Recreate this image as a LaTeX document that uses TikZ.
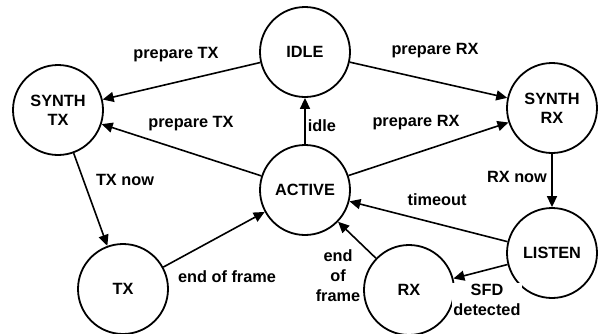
\documentclass[tikz,border=0pt]{standalone}
\usepackage{fontspec}
\setmainfont{Liberation Sans}
\usetikzlibrary{arrows.meta}
\begin{document}
\begin{tikzpicture}[x=1pt,y=-1pt,
  state/.style={circle,draw,line width=1.8pt,minimum size=90pt,inner sep=0pt,align=center,font=\fontsize{16.3}{19}\selectfont\bfseries},
  trans/.style={line width=1.6pt,-{Triangle[length=11pt,width=10pt]}},
  lbl/.style={fill=white,inner sep=1pt,align=center,font=\fontsize{16.3}{20}\selectfont\bfseries}]
\useasboundingbox (0,0) rectangle (598,333);
\node[state] (idle) at (305,52) {IDLE};
\node[state] (stx) at (58,110) {SYNTH\\TX};
\node[state] (srx) at (552,108) {SYNTH\\RX};
\node[state] (active) at (305,190) {ACTIVE};
\node[state] (tx) at (123,289) {TX};
\node[state] (rx) at (409,290) {RX};
\node[state] (listen) at (552,253) {LISTEN};
\draw[trans] (idle) -- (stx);
\draw[trans] (idle) -- (srx);
\draw[trans] (active) -- (stx);
\draw[trans] (active) -- (srx);
\draw[trans] (active) -- (idle);
\draw[trans] (stx) -- (tx);
\draw[trans] (tx) -- (active);
\draw[trans] (srx) -- (listen);
\draw[trans] (listen) -- (active);
\draw[trans] (listen) -- (rx);
\draw[trans] (rx) -- (active);
\node[lbl] (l1) at (176,55) {prepare TX};
\node[lbl] (l2) at (191,124) {prepare TX};
\node[lbl] (l3) at (435,51) {prepare RX};
\node[lbl] (l4) at (416,123) {prepare RX};
\node[lbl] (l5) at (322,126) {idle};
\node[lbl] (l6) at (125,180) {TX now};
\node[lbl] (l7) at (227,277) {end of frame};
\node[lbl] (l8) at (517,177) {RX now};
\node[lbl] (l9) at (437,200) {timeout};
\node[lbl] (l10) at (338,276) {end\\of\\frame};
\node[lbl] (l11) at (487,300) {SFD\\detected};
\end{tikzpicture}
\end{document}
